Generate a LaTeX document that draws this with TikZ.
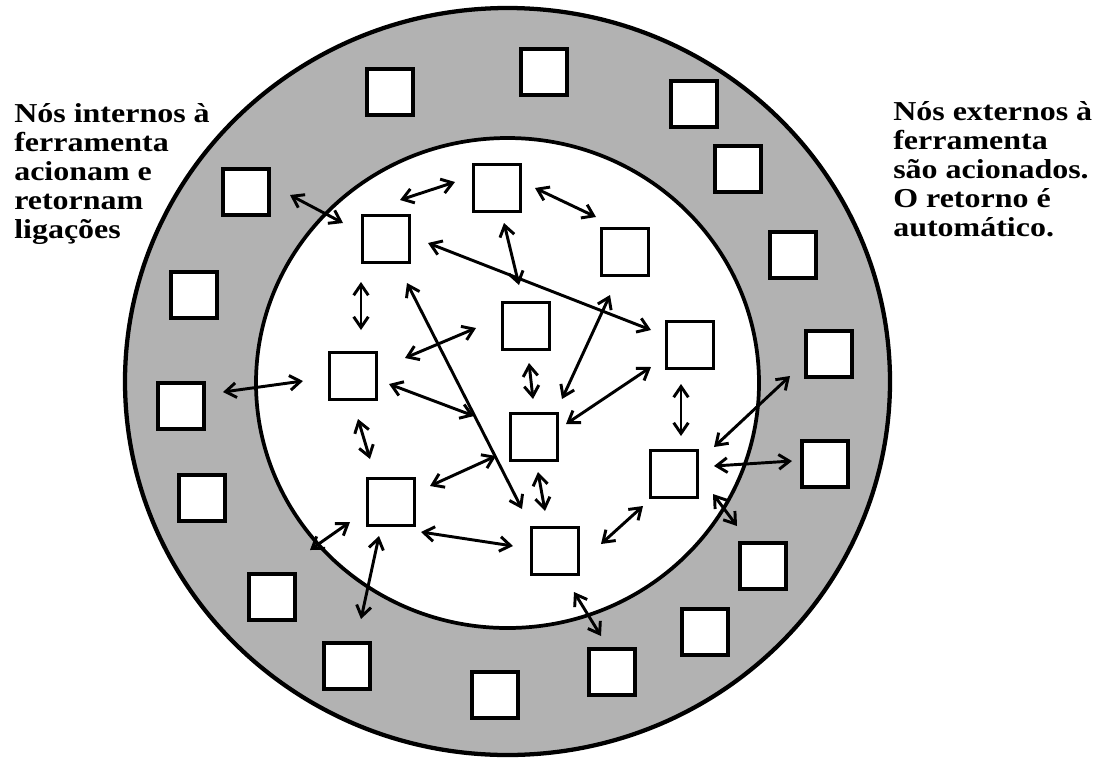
\documentclass[tikz,border=0pt]{standalone}
\usepackage{fontspec}
\setmainfont{Liberation Serif}
\newfontfamily\lblfont[FakeStretch=1.17]{Liberation Serif}
\usetikzlibrary{arrows.meta,calc}
\begin{document}
\begin{tikzpicture}[x=0.75pt,y=-0.75pt,
  obox/.style={draw, line width=3pt, fill=white, minimum size=34.5pt, inner sep=0pt},
  ibox/.style={draw, line width=2.7pt, fill=white, minimum size=35pt, inner sep=0pt},
  arr/.style={line width=2.2pt, line join=round,
    {Straight Barb[length=8pt,width=11pt]}-{Straight Barb[length=8pt,width=11pt]}},
  lbl/.style={inner sep=0pt, anchor=base west}]
\useasboundingbox (0,0) rectangle (1110,758);
% rings
\draw[line width=3.2pt, fill=black!30] (507.5,381.5) ellipse [x radius=382.5, y radius=373.5];
\draw[line width=2.8pt, fill=white] (507.5,383) ellipse [x radius=251.5, y radius=245];
% outer boxes
\node[obox] (A) at (390,92) {};
\node[obox] (B) at (544,72) {};
\node[obox] (I) at (694,104) {};
\node[obox] (J) at (738,169) {};
\node[obox] (C) at (246,192) {};
\node[obox] (D) at (194,295) {};
\node[obox] (L) at (793,255) {};
\node[obox] (N) at (829,354) {};
\node[obox] (O) at (181,406) {};
\node[obox] (X) at (825,464) {};
\node[obox] (P) at (202,498) {};
\node[obox] (Y) at (763,566) {};
\node[obox] (Q) at (272,597) {};
\node[obox] (Z) at (705,632) {};
\node[obox] (R) at (347,666) {};
\node[obox] (AA) at (612,672) {};
\node[obox] (S) at (495,695) {};
% inner boxes
\node[ibox] (E) at (386,239) {};
\node[ibox] (F) at (497,188) {};
\node[ibox] (K) at (625,252) {};
\node[ibox] (G) at (526,326) {};
\node[ibox] (M) at (690,345) {};
\node[ibox] (H) at (353,376) {};
\node[ibox] (U) at (534,437) {};
\node[ibox] (W) at (674,474) {};
\node[ibox] (T) at (391,502) {};
\node[ibox] (V) at (555,551) {};
\coordinate (c1) at (310,550);
% connectors
\draw[arr] ($(C)+(44,3)$) -- ($(E)+(-43,-16)$);
\draw[arr] ($(E)+(14,-39)$) -- ($(F)+(-42,-6)$);
\draw[arr] ($(F)+(38,0)$) -- ($(K)+(-29,-35)$);
\draw[arr] ($(E)+(42,4)$) -- ($(M)+(-39,-15)$);
\draw[arr] ($(F)+(7,35)$) -- ($(G)+(-7,-41)$);
\draw[arr] ($(E)+(-25,43)$) -- ($(H)+(8,-46)$);
\draw[arr] ($(E)+(21,44)$) -- ($(V)+(-33,-42)$);
\draw[arr] ($(H)+(52,-18)$) -- ($(G)+(-50,2)$);
\draw[arr] ($(O)+(42,-14)$) -- ($(H)+(-50,5)$);
\draw[arr] ($(H)+(36,8)$) -- ($(U)+(-60,-21)$);
\draw[arr] ($(H)+(5,43)$) -- ($(T)+(-21,-43)$);
\draw[arr] ($(T)+(39,-16)$) -- ($(U)+(-38,19)$);
\draw[arr] ($(G)+(3,37)$) -- ($(U)+(-1,-38)$);
\draw[arr] ($(U)+(4,35)$) -- ($(V)+(-10,-40)$);
\draw[arr] ($(T)+(30,30)$) -- ($(V)+(-42,-5)$);
\draw[arr] ($(T)+(-41,20)$) -- (c1);
\draw[arr] ($(T)+(-12,34)$) -- ($(R)+(14,-47)$);
\draw[arr] ($(K)+(-15,43)$) -- ($(U)+(28,-38)$);
\draw[arr] ($(M)+(-39,22)$) -- ($(U)+(32,-13)$);
\draw[arr] ($(M)+(-9,39)$) -- ($(W)+(7,-38)$);
\draw[arr] ($(W)+(40,-27)$) -- ($(N)+(-39,22)$);
\draw[arr] ($(W)+(40,-8)$) -- ($(X)+(-33,-3)$);
\draw[arr] ($(W)+(39,20)$) -- ($(Y)+(-26,-40)$);
\draw[arr] ($(W)+(-31,32)$) -- ($(V)+(46,-7)$);
\draw[arr] ($(V)+(19,41)$) -- ($(AA)+(-11,-36)$);
% labels
\node[lbl] (lt) at (14,122) {\parbox[t]{230pt}{\lblfont\bfseries\fontsize{20.5}{21.75}\selectfont\raggedright Nós internos à\\ferramenta\\acionam e\\retornam\\ligações}};
\node[lbl] (rt) at (893,120) {\parbox[t]{230pt}{\lblfont\bfseries\fontsize{20.5}{21.75}\selectfont\raggedright Nós externos à\\ferramenta\\são acionados.\\O retorno é\\automático.}};
\end{tikzpicture}
\end{document}
